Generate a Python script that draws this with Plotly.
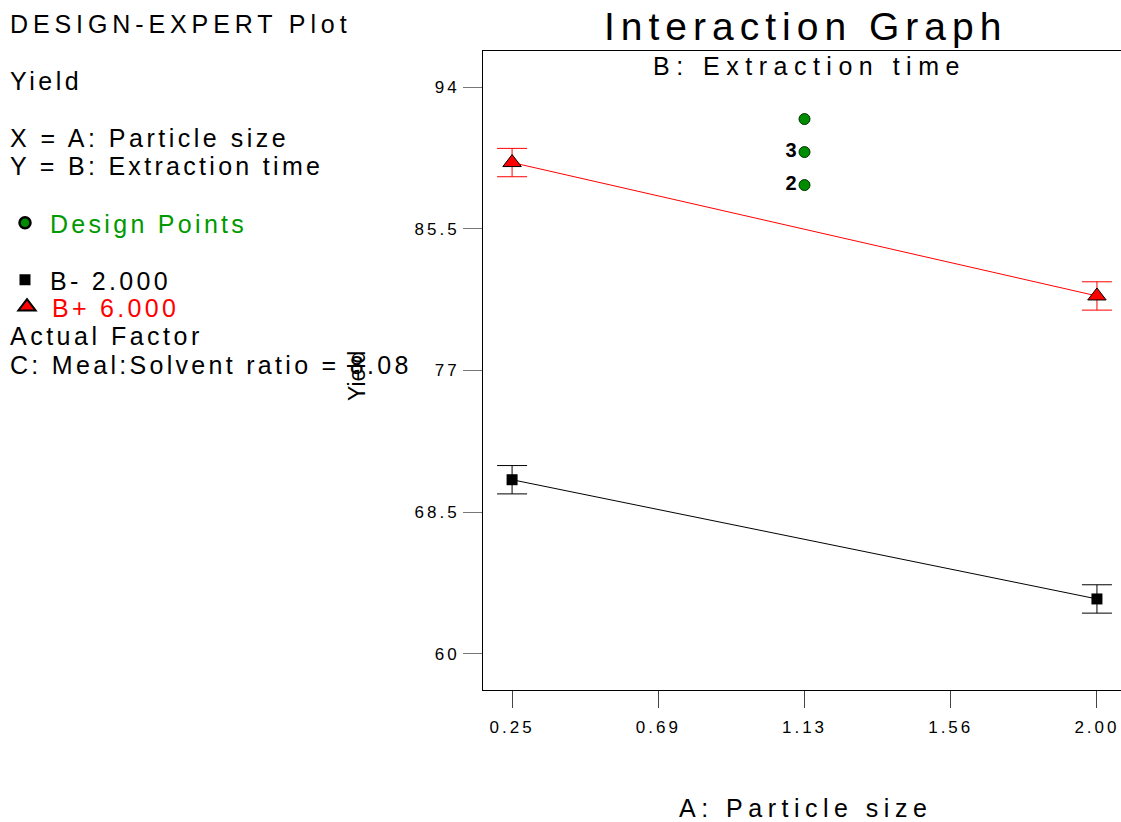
import plotly.graph_objects as go

# ---- data ----
particle_size = [0.25, 2.00]
yield_b_minus = [70.45, 63.30]
yield_b_plus = [89.47, 81.47]
err_b_minus = [0.85, 0.85]
err_b_plus = [0.85, 0.85]

design_x = [1.125, 1.125, 1.125]
design_y = [92.08, 90.10, 88.12]
design_labels = ["", "<b>3</b>", "<b>2</b>"]

x_tickvals = [0.25, 0.6875, 1.125, 1.5625, 2.00]
x_ticktext = ["0.25", "0.69", "1.13", "1.56", "2.00"]
y_tickvals = [60, 68.5, 77, 85.5, 94]
y_ticktext = ["60", "68.5", "77", "85.5", "94"]

W, H = 1121, 822
L, R, T, B = 483, 0, 51, 132
FONT = "Liberation Sans, Arial, sans-serif"


def sp(text, ls, color=None):
    style = f"letter-spacing:{ls}px"
    if color:
        style += f";color:{color}"
    return f'<span style="{style}">{text}</span>'


def px(xp):
    return (xp - L) / (W - L - R)


def py(yp):
    return (H - B - yp) / (H - T - B)


fig = go.Figure()

fig.add_trace(go.Scatter(
    x=particle_size, y=yield_b_minus, mode="lines+markers",
    line=dict(color="black", width=1),
    marker=dict(symbol="square", size=11, color="black"),
    error_y=dict(type="data", array=err_b_minus, color="black", width=15, thickness=1),
    showlegend=False, cliponaxis=False))

fig.add_trace(go.Scatter(
    x=particle_size, y=yield_b_plus, mode="lines+markers",
    line=dict(color="red", width=1),
    marker=dict(symbol="triangle-up", size=16, color="red", line=dict(color="black", width=1)),
    error_y=dict(type="data", array=err_b_plus, color="red", width=15, thickness=1),
    showlegend=False, cliponaxis=False))

fig.add_trace(go.Scatter(
    x=design_x, y=design_y, mode="markers+text",
    text=design_labels, textposition="middle left",
    textfont=dict(family=FONT, size=20, color="black"),
    marker=dict(symbol="circle", size=11, color="#008C00", line=dict(color="#003300", width=1)),
    showlegend=False))

# legend-only entries, each in its own legend box
fig.add_trace(go.Scatter(
    x=[None], y=[None], mode="markers", name=sp("Design Points", 3.3, "#009900"),
    marker=dict(symbol="circle", size=11, color="#008C00", line=dict(color="black", width=2.5)),
    legend="legend"))
fig.add_trace(go.Scatter(
    x=[None], y=[None], mode="markers", name=sp("B- 2.000", 3.3),
    marker=dict(symbol="square", size=11, color="black"),
    legend="legend2"))
fig.add_trace(go.Scatter(
    x=[None], y=[None], mode="markers", name=sp("B+ 6.000", 3.3, "red"),
    marker=dict(symbol="triangle-up", size=15, color="red", line=dict(color="black", width=2)),
    legend="legend3"))

annots = []


def add_text(text, xp, yp, size, color="black", xanchor="left", ls=3.5, angle=0):
    annots.append(dict(
        text=sp(text, ls), x=px(xp), y=py(yp), xref="paper", yref="paper",
        xanchor=xanchor, yanchor="middle", showarrow=False, textangle=angle,
        font=dict(family=FONT, size=size, color=color)))


add_text("DESIGN-EXPERT Plot", 8, 24, 25, ls=4.9)
add_text("Yield", 8, 81, 25)
add_text("X = A: Particle size", 8, 138, 25)
add_text("Y = B: Extraction time", 8, 166, 25, ls=3.3)
add_text("Actual Factor", 8, 336, 25)
add_text("C: Meal:Solvent ratio = 8.08", 8, 365, 25, ls=3.3)

add_text("Interaction Graph", 805, 27, 39, xanchor="center", ls=6)
add_text("B: Extraction time", 809, 66, 25, xanchor="center", ls=6.5)
add_text("A: Particle size", 805, 808, 25, xanchor="center", ls=5.5)
add_text("Yield", 357, 376, 23, xanchor="center", ls=0, angle=-90)

leg_common = dict(xanchor="left", yanchor="middle",
                  font=dict(family=FONT, size=25), bgcolor="rgba(0,0,0,0)",
                  itemwidth=40)

fig.update_layout(
    width=W, height=H,
    margin=dict(l=L, r=R, t=T, b=B),
    paper_bgcolor="white", plot_bgcolor="white",
    font=dict(family=FONT, color="black"),
    annotations=annots,
    legend=dict(x=px(0), y=py(223), **leg_common),
    legend2=dict(x=px(0), y=py(280), **leg_common),
    legend3=dict(x=px(2), y=py(307), **leg_common),
    xaxis=dict(
        range=[0.163, 2.072], tickvals=x_tickvals,
        ticktext=[sp(t, 3) for t in x_ticktext],
        ticks="outside", ticklen=17, tickcolor="#444", tickwidth=1,
        ticklabelstandoff=5,
        showline=True, linecolor="black", linewidth=1, mirror=True,
        showgrid=False, zeroline=False,
        tickfont=dict(family=FONT, size=17)),
    yaxis=dict(
        range=[57.84, 96.16], tickvals=y_tickvals,
        ticktext=[sp(t, 3) for t in y_ticktext],
        ticks="outside", ticklen=19, tickcolor="#777", tickwidth=1,
        showline=True, linecolor="black", linewidth=1,
        showgrid=False, zeroline=False,
        tickfont=dict(family=FONT, size=17)),
)

fig.write_html("out.html")
